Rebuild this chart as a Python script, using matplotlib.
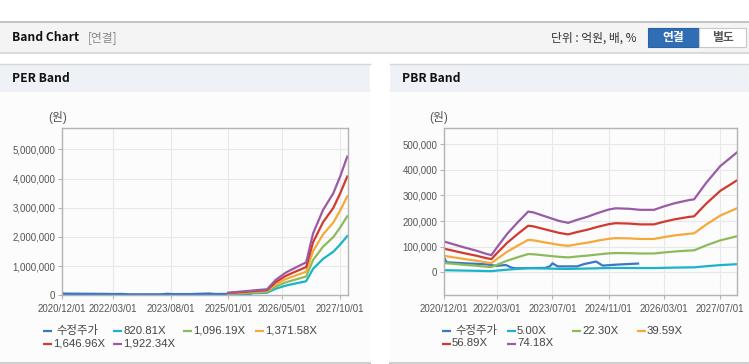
"""
Band chart (PER / PBR) recreated with matplotlib
"""

import matplotlib
matplotlib.use('Agg')
import numpy as np
import pandas as pd
import matplotlib.pyplot as plt
from matplotlib.patches import Rectangle

plt.rcParams['font.family'] = ['Liberation Sans', 'Noto Sans CJK KR', 'DejaVu Sans']

# --- data -----------------------------------------------------------------
price_dates = ['2020-12-01', '2020-12-20', '2021-06-01', '2021-12-01', '2022-03-01', '2022-05-20',
               '2022-07-10', '2022-08-15', '2023-05-01', '2023-06-10', '2023-07-01', '2023-08-15',
               '2024-02-01', '2024-04-01', '2024-07-15', '2024-09-10', '2025-01-15', '2025-07-15']
price_values = [57000, 39000, 35000, 31000, 25000, 28500,
                18000, 15600, 17000, 24000, 35000, 23000,
                23000, 32000, 42000, 26000, 30000, 34000]

# PER band: EPS per date, multiples
eps_dates = ['2025-01-01', '2025-04-01', '2025-07-01', '2025-10-01', '2025-12-15', '2026-03-01',
             '2026-06-01', '2026-08-15', '2026-12-01', '2027-02-01', '2027-05-01', '2027-08-01',
             '2027-10-01', '2027-12-05']
eps_values = [47, 62, 78, 96, 107, 273, 405, 481, 588, 1103, 1519, 1815, 2112, 2471]
per_multiples = [820.81, 1096.19, 1371.58, 1646.96, 1922.34]
per_labels = ['820.81X', '1,096.19X', '1,371.58X', '1,646.96X', '1,922.34X']

# PBR band: BPS per date, multiples
bps_dates = ['2020-12-01', '2021-03-01', '2021-06-01', '2021-09-01', '2021-12-01', '2022-01-15',
             '2022-03-01', '2022-06-01', '2022-09-01', '2022-12-01', '2023-01-15', '2023-05-01',
             '2023-09-01', '2023-11-15', '2024-02-01', '2024-05-01', '2024-08-01', '2024-11-01',
             '2025-01-01', '2025-05-01', '2025-08-01', '2025-12-01', '2026-03-01', '2026-06-01',
             '2026-10-01', '2026-11-15', '2027-03-01', '2027-07-01', '2027-11-25']
bps_values = [1618, 1456, 1294, 1146, 971, 903,
              1281, 2022, 2629, 3195, 3154, 2939,
              2696, 2602, 2764, 2925, 3128, 3303,
              3370, 3343, 3289, 3289, 3478, 3640,
              3802, 3842, 4718, 5594, 6322]
pbr_multiples = [5.00, 22.30, 39.59, 56.89, 74.18]
pbr_labels = ['5.00X', '22.30X', '39.59X', '56.89X', '74.18X']

per_ticks = ['2020-12-01', '2022-03-01', '2023-08-01', '2025-01-01', '2026-05-01', '2027-10-01']
pbr_ticks = ['2020-12-01', '2022-03-01', '2023-07-01', '2024-11-01', '2026-03-01', '2027-07-01']

price_color = '#3b78c4'
band_colors = ['#1bb3c9', '#8cbb5b', '#f4a93a', '#d2392f', '#9a5aa6']

W, H = 749, 364


def box(x0, y0, x1, y1):
    """pixel box (top-left origin) -> figure fraction [l, b, w, h]"""
    return [x0 / W, 1 - y1 / H, (x1 - x0) / W, (y1 - y0) / H]


def draw_band(ax, base_dates, base_values, multiples, ticks, xmax, ylim, yticks, price_lw):
    ax.set_facecolor('none')
    ax.plot(pd.to_datetime(price_dates), price_values, color=price_color, linewidth=price_lw)
    d = pd.to_datetime(base_dates)
    for m, c in zip(multiples, band_colors):
        ax.plot(d, np.array(base_values) * m, color=c, linewidth=1.6)

    ax.set_xlim(pd.Timestamp('2020-12-01'), pd.Timestamp(xmax))
    ax.set_ylim(*ylim)
    t = pd.to_datetime(ticks)
    ax.set_xticks(t)
    ax.set_xticklabels([x.strftime('%Y/%m/%d') for x in t])
    ax.set_yticks(yticks)
    ax.set_yticklabels(['{:,}'.format(v) for v in yticks])

    for s in ax.spines.values():
        s.set_color('#b4b4b4')
        s.set_linewidth(1.0)
    ax.grid(True, color='#e8e8e8', linewidth=0.8)
    ax.set_axisbelow(True)
    ax.tick_params(axis='both', colors='#b4b4b4', labelcolor='#555555', labelsize=7,
                   length=3, width=0.8, pad=2)
    ax.tick_params(axis='x', pad=3)


def draw_legend(bg, cols, rows, labels, colors):
    for i, (lab, c) in enumerate(zip(labels, colors)):
        x = cols[i % 4]
        y = rows[i // 4]
        bg.plot([x, x + 9], [y, y], color=c, linewidth=1.6, solid_capstyle='butt')
        tx = x + 13 if i == 0 else x + 10
        bg.text(tx, y, lab, fontsize=8.2, color='#444444', va='center', ha='left')


fig = plt.figure(figsize=(W / 100, H / 100), dpi=100)
fig.patch.set_facecolor('white')

# background layer in pixel coords
bg = fig.add_axes([0, 0, 1, 1], zorder=-1)
bg.set_xlim(0, W)
bg.set_ylim(H, 0)
bg.axis('off')

# top header bar
bg.add_patch(Rectangle((0, 22), W, 30, facecolor='#f4f4f4', edgecolor='none'))
bg.plot([0, W], [22, 22], color='#b8b8b8', linewidth=1.2)
bg.plot([0, W], [52.5, 52.5], color='#dadada', linewidth=1.5)
bg.text(12, 37.5, 'Band Chart', fontsize=8.7, fontweight='bold', color='#111111', va='center',
        family=['Noto Sans CJK KR'])
bg.text(88, 37.5, '[연결]', fontsize=8.5, color='#8a8a8a', va='center', family=['Noto Sans CJK KR'])
bg.text(551, 38, '단위 : 억원, 배, %', fontsize=8.5, color='#333333', va='center',
        family=['Noto Sans CJK KR', 'DejaVu Sans'])
bg.add_patch(Rectangle((648, 28), 51, 19, facecolor='#2f6db5', edgecolor='#2a62a3', linewidth=0.8))
bg.add_patch(Rectangle((699, 28), 47, 19, facecolor='white', edgecolor='#c8c8c8', linewidth=0.8))
bg.text(673.5, 37.5, '연결', fontsize=8.5, fontweight='bold', color='white', ha='center', va='center',
        family=['Noto Sans CJK KR'])
bg.text(722.5, 37.5, '별도', fontsize=8.5, fontweight='bold', color='#555555', ha='center', va='center',
        family=['Noto Sans CJK KR'])

# panels
for x0, x1, title in [(0, 370, 'PER Band'), (390, W, 'PBR Band')]:
    bg.add_patch(Rectangle((x0, 64), x1 - x0, 28, facecolor='#eef2f7', edgecolor='none'))
    bg.add_patch(Rectangle((x0, 92), x1 - x0, 270, facecolor='#fcfcfc', edgecolor='none'))
    bg.plot([x0, x1], [63.5, 63.5], color='#d6d6d6', linewidth=1.0)
    bg.plot([x0, x1], [362.5, 362.5], color='#cfcfcf', linewidth=1.5)
    bg.text(x0 + 12, 79, title, fontsize=8.7, fontweight='bold', color='#111111', va='center',
            family=['Noto Sans CJK KR'])

bg.text(57.5, 118, '(원)', fontsize=8.5, color='#555555', ha='center', va='center')
bg.text(439, 118, '(원)', fontsize=8.5, color='#555555', ha='center', va='center')

# PER chart
ax1 = fig.add_axes(box(62.3, 128.3, 347.7, 295.3))
draw_band(ax1, eps_dates, eps_values, per_multiples, per_ticks, '2027-12-09',
          (0, 5720000), [0, 1000000, 2000000, 3000000, 4000000, 5000000], 2.4)

# PBR chart
ax2 = fig.add_axes(box(444.3, 128.3, 737.3, 295.3))
draw_band(ax2, bps_dates, bps_values, pbr_multiples, pbr_ticks, '2027-11-26',
          (-90000, 562500), [0, 100000, 200000, 300000, 400000, 500000], 1.6)

# legends
colors = [price_color] + band_colors
draw_legend(bg, [43, 113, 183, 255], [330.5, 343.5], ['수정주가'] + per_labels, colors)
draw_legend(bg, [442, 507, 572, 637], [330.5, 343.5], ['수정주가'] + pbr_labels, colors)

fig.savefig('out.png', dpi=100)
